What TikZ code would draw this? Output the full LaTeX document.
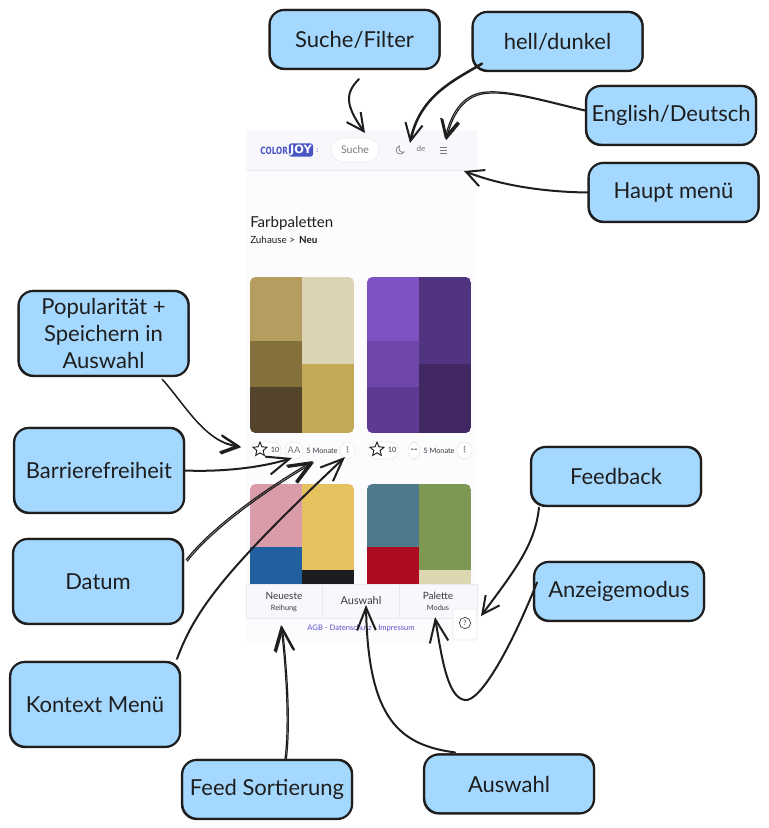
\documentclass[tikz,border=0pt]{standalone}
\usepackage{fontspec}
\setmainfont{Lato}
\newfontfamily\symfont{DejaVu Sans}
\usetikzlibrary{arrows.meta,shapes.geometric}

\definecolor{boxfill}{HTML}{A5D8FF}
\definecolor{ink}{HTML}{1E1E1E}
\definecolor{phonebg}{HTML}{FCFCFE}
\definecolor{headbg}{HTML}{F8F8FC}
\definecolor{rim}{HTML}{EAEAEE}
\definecolor{uitext}{HTML}{3A3A3E}
\definecolor{uigrey}{HTML}{77777C}
\definecolor{logoblue}{HTML}{4A55C4}
\definecolor{linkblue}{HTML}{5A50C8}
\definecolor{ca}{HTML}{B59C5F}
\definecolor{cb}{HTML}{84703A}
\definecolor{cc}{HTML}{54442C}
\definecolor{cd}{HTML}{DBD3B3}
\definecolor{ce}{HTML}{C4AA58}
\definecolor{da}{HTML}{7F52C4}
\definecolor{db}{HTML}{6E47A8}
\definecolor{dc}{HTML}{5E3A95}
\definecolor{dd}{HTML}{513480}
\definecolor{de}{HTML}{412863}
\definecolor{ea}{HTML}{DB9CA9}
\definecolor{eb}{HTML}{21609F}
\definecolor{ec}{HTML}{E5C25E}
\definecolor{ed}{HTML}{1C1C22}
\definecolor{fa}{HTML}{4E7A8B}
\definecolor{fb}{HTML}{AE0C22}
\definecolor{fc}{HTML}{7D9853}
\definecolor{fd}{HTML}{DCD7B0}

\tikzset{
	callout/.style={draw=ink,fill=boxfill,line width=1.6pt,rounded corners=11pt,minimum width=127.5pt,minimum height=44.25pt,align=center,font=\fontsize{16.5}{20}\selectfont,text=ink,inner sep=0pt,
		postaction={draw=ink,line width=.6pt,rounded corners=11pt,transform canvas={shift={(.6pt,.6pt)}}}},
	callout tall/.style={callout,minimum height=63.75pt},
	pointer/.style={draw=ink,line width=1.5pt,line cap=round,-{Straight Barb[length=13pt,width=13pt,line width=1.5pt]}},
	pointer long/.style={pointer,-{Straight Barb[length=17pt,width=14pt,line width=1.5pt]}},
	doubled/.style={pointer,line width=.9pt,postaction={draw=ink,line width=.9pt,transform canvas={shift={(.9pt,-.9pt)}}}},
	doubled long/.style={pointer long,line width=.9pt,postaction={draw=ink,line width=.9pt,transform canvas={shift={(.9pt,-.9pt)}}}},
	pill/.style={draw=rim,fill=white,line width=.5pt,rounded corners=6pt},
	uilabel/.style={text=uitext,inner sep=0pt,font=\fontsize{5.5}{7}\selectfont},
	tab/.style={draw=rim,fill=headbg,line width=.5pt}
}

\begin{document}
\begin{tikzpicture}[x=.75pt,y=-.75pt]
	\useasboundingbox (0,0) rectangle (768,828);

	% phone
	\fill[phonebg] (246,130) rectangle (477,642);
	\fill[headbg] (246,130) rectangle (477,170);
	\draw[rim,line width=.4pt] (246,170) -- (477,170);

	\node[inner sep=0pt,text=logoblue,font=\symfont\bfseries\fontsize{7.5}{9}\selectfont,anchor=west] (logoa) at (260,150.5) {\scalebox{.73}[1]{COLOR}};
	\node[fill=logoblue,text=white,rounded corners=2pt,inner sep=1pt,font=\symfont\bfseries\fontsize{8.5}{10}\selectfont,anchor=west] (logob) at (288.5,150) {\scalebox{1}[1]{JOY}};
	\node[inner sep=0pt,text=logoblue,font=\bfseries\fontsize{5}{6}\selectfont,anchor=west] (logoc) at (316,151) {:};
	\node[pill,rounded corners=9pt,minimum width=36pt,minimum height=18pt,inner sep=0pt,text=uigrey,font=\fontsize{7.9}{9}\selectfont] (search) at (355,150) {Suche};
	\draw[uigrey,line width=.5pt] (399.5,146) .. controls (395,147) and (395,154) .. (400,154) .. controls (402,154) and (403.5,153) .. (404,152) .. controls (400,153) and (398,150) .. cycle;
	\node[uilabel,text=uigrey,font=\fontsize{6}{7}\selectfont] (lang) at (421,149) {de};
	\foreach \y in {147,150,153}
		\draw[uigrey,line width=.6pt] (440,\y) -- (447,\y);

	\node[anchor=west,inner sep=0pt,text=ink,font=\fontsize{11.3}{13}\selectfont] (title) at (250,223.5) {Farbpaletten};
	\node[anchor=west,inner sep=0pt,text=ink,font=\fontsize{7.4}{9}\selectfont] (crumb) at (250,240) {Zuhause >\hspace{3pt}\textbf{Neu}};

	% palettes
	\begin{scope}
		\clip[rounded corners=4pt] (250,277) rectangle (354,433);
		\foreach \xa/\ya/\xb/\yb/\col in {250/277/302/341/ca,250/341/302/387/cb,250/387/302/433/cc,302/277/354/364/cd,302/364/354/433/ce}
			\fill[\col] (\xa,\ya) rectangle (\xb,\yb);
	\end{scope}
	\begin{scope}
		\clip[rounded corners=4pt] (367,277) rectangle (471,433);
		\foreach \xa/\ya/\xb/\yb/\col in {367/277/419/341/da,367/341/419/387/db,367/387/419/433/dc,419/277/471/364/dd,419/364/471/433/de}
			\fill[\col] (\xa,\ya) rectangle (\xb,\yb);
	\end{scope}
	\begin{scope}
		\clip[rounded corners=4pt] (250,484) rectangle (354,600);
		\foreach \xa/\ya/\xb/\yb/\col in {250/484/302/547/ea,250/547/302/600/eb,302/484/354/570/ec,302/570/354/600/ed}
			\fill[\col] (\xa,\ya) rectangle (\xb,\yb);
	\end{scope}
	\begin{scope}
		\clip[rounded corners=4pt] (367,484) rectangle (471,600);
		\foreach \xa/\ya/\xb/\yb/\col in {367/484/419/547/fa,367/547/419/600/fb,419/484/471/570/fc,419/570/471/600/fd}
			\fill[\col] (\xa,\ya) rectangle (\xb,\yb);
	\end{scope}

	% rows below the palettes
	\foreach \x/\n in {0/a,117/b}{
		\draw[pill] (251+\x,442) rectangle (281+\x,459);
		\node[star,star points=5,star point ratio=2.2,draw=ink,line width=.7pt,minimum size=11pt,inner sep=0pt] (star\n) at (260+\x,449.5) {};
		\node[uilabel] (count\n) at (275+\x,449.5) {10};
		\node[uilabel] (age\n) at (322+\x,450.5) {5 Monate};
		\draw[pill] (340+\x,442) rectangle (355+\x,459);
		\node[uilabel,text=uigrey,font=\bfseries\fontsize{6}{7}\selectfont] (more\n) at (347.5+\x,450) {\symfont⋮};
	}
	\draw[pill] (285,442) rectangle (303,459);
	\node[uilabel,text=uigrey,font=\fontsize{7}{8}\selectfont] (contrast) at (294,450) {AA};
	\draw[pill] (408,442) rectangle (420,459);
	\node[uilabel,font=\bfseries\fontsize{7}{8}\selectfont] (contrastb) at (414,450.5) {-{}-};

	% bottom bar
	\fill[phonebg] (246,618) rectangle (477,642);
	\draw[tab] (246,584) rectangle (322.5,618);
	\draw[tab] (322.5,584) rectangle (399,618);
	\draw[tab] (399,584) rectangle (477,618);
	\node[uilabel,font=\fontsize{7.5}{9}\selectfont] (newest) at (284,596) {Neueste};
	\node[uilabel,font=\fontsize{5.5}{6}\selectfont] (order) at (284,608) {Reihung};
	\node[uilabel,font=\fontsize{8.2}{9}\selectfont] (choice) at (361,601) {Auswahl};
	\node[uilabel,font=\fontsize{7.5}{9}\selectfont] (palette) at (438,596) {Palette};
	\node[uilabel,font=\fontsize{5.5}{6}\selectfont] (mode) at (438,608) {Modus};
	\node[uilabel,text=linkblue,font=\fontsize{5.7}{7}\selectfont] (links) at (361,628) {AGB - Datenschutz - Impressum};
	\draw[pill,rounded corners=2pt] (453,609) rectangle (477,640);
	\node[circle,draw=uitext,line width=.5pt,inner sep=0pt,minimum size=8.5pt,text=uitext,font=\fontsize{5.5}{6}\selectfont] (help) at (465,623) {?};

	% callouts
	\node[callout] (filter) at (354.5,39.5) {Suche/Filter};
	\node[callout] (dark) at (557.5,41.5) {hell/dunkel};
	\node[callout] (english) at (671,115.5) {English/Deutsch};
	\node[callout] (mainmenu) at (673.5,192.5) {Haupt menü};
	\node[callout tall] (popular) at (103.5,333.5) {Popularität +\\Speichern in\\Auswahl};
	\node[callout tall] (access) at (99,470.5) {Barrierefreiheit};
	\node[callout tall] (date) at (98,581.5) {Datum};
	\node[callout tall] (context) at (95,704.5) {Kontext Menü};
	\node[callout] (feed) at (267,789.5) {Feed Sortierung};
	\node[callout] (selection) at (509,784) {Auswahl};
	\node[callout] (display) at (619,591.5) {Anzeigemodus};
	\node[callout] (feedback) at (616,476.5) {Feedback};

	% free ends
	\coordinate (tipfilter) at (365,133);
	\coordinate (tipdark) at (410,143);
	\coordinate (tipenglish) at (445,139);
	\coordinate (tipmain) at (464,171);
	\coordinate (tippopular) at (240,446);
	\coordinate (tipaccess) at (292,458);
	\coordinate (tipdate) at (313,461);
	\coordinate (tipcontext) at (345,457);
	\coordinate (tipfeed) at (281,625);
	\coordinate (tipselection) at (366,605);
	\coordinate (tipdisplay) at (435,617);
	\coordinate (tipfeedback) at (481,616);

	\draw[pointer] ([shift={(4.5,9)}]filter.south) .. controls (345,93) and (345,105) .. (tipfilter);
	\draw[pointer,line width=1.9pt] ([shift={(-75.5,-8.5)}]dark.south) .. controls (455,80) and (420,95) .. (tipdark);
	\draw[doubled] ([shift={(0,-5.5)}]english.west) .. controls (550,102) and (510,90) .. (487,92) .. controls (465,93) and (452,110) .. (tipenglish);
	\draw[pointer] (mainmenu.west) .. controls (550,192) and (505,187) .. (tipmain);
	\draw[doubled] ([shift={(58.5,2)}]popular.south) .. controls (185,405) and (205,442) .. (tippopular);
	\draw[pointer long] (access.east) .. controls (220,472) and (260,468) .. (tipaccess);
	\draw[doubled long] ([shift={(2,-21.5)}]date.east) .. controls (205,535) and (250,498) .. (tipdate);
	\draw[pointer long] ([shift={(82,-2)}]context.north) .. controls (195,610) and (225,570) .. (tipcontext);
	\draw[doubled long] ([shift={(18,0)}]feed.north) .. controls (290,720) and (285,660) .. (tipfeed);
	\draw[pointer long] ([shift={(-54,-1)}]selection.north) .. controls (400,745) and (368,720) .. (tipselection);
	\draw[pointer long] ([shift={(-82,21.5)}]display.north) .. controls (510,650) and (480,702) .. (465,700) .. controls (448,698) and (442,660) .. (tipdisplay);
	\draw[pointer] ([shift={(-77,0.5)}]feedback.south) .. controls (535,545) and (515,570) .. (tipfeedback);
\end{tikzpicture}
\end{document}
